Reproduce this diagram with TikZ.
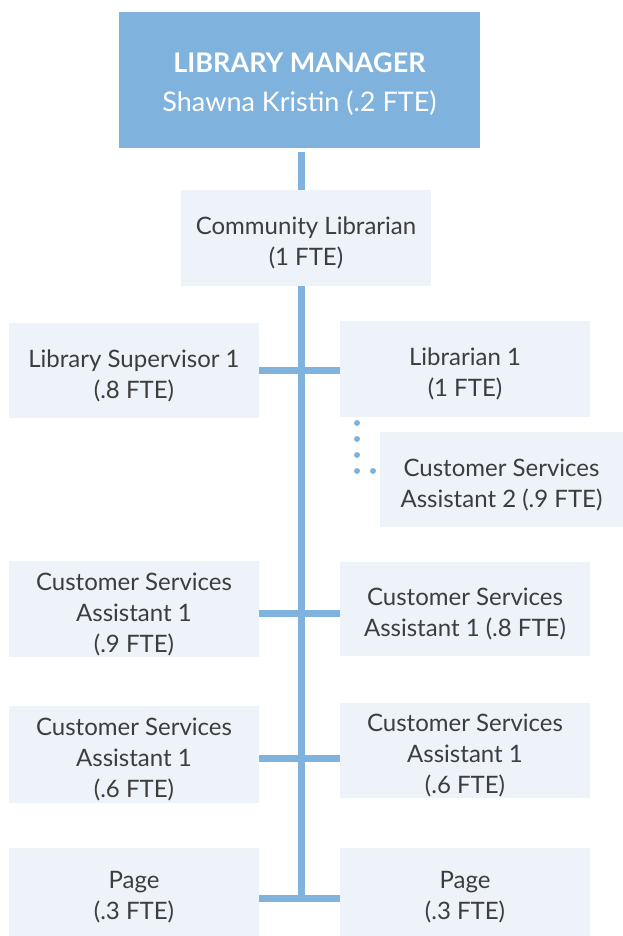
\documentclass[tikz,border=0pt]{standalone}
\usepackage{fontspec}
\setmainfont{Lato}
\usepackage{tikz}
\usetikzlibrary{positioning}
\definecolor{mgrblue}{HTML}{80B2DE}
\definecolor{boxfill}{HTML}{EEF3FA}
\definecolor{txtgray}{HTML}{3D3D3D}
\newcommand{\topgap}{\rule{0pt}{28pt}}
\tikzset{
  staff/.style={fill=boxfill, text=txtgray, minimum width=250pt, minimum height=96pt,
    inner sep=0pt, align=center, font=\fontsize{24}{31}\selectfont},
  link/.style={draw=mgrblue, line width=7pt},
}

\begin{document}
\begin{tikzpicture}[x=1pt,y=-1pt]
\useasboundingbox (0,0) rectangle (623,936);
% boxes
\node[fill=mgrblue, text=white, minimum width=361pt, minimum height=136pt, inner sep=0pt,
  align=center, font=\fontsize{27}{39}\selectfont] (mgr) at (299.5,80)
  {\topgap\textbf{LIBRARY MANAGER}\\Shawna Kristin (.2 FTE)};
\node[staff] (comm) at (306,238) {\topgap Community Librarian\\(1 FTE)};
\node[staff, minimum height=95pt] (sup) at (134,370.5) {\topgap Library Supervisor 1\\(.8 FTE)};
\node[staff] (lib1) at (465,369) {\topgap Librarian 1\\(1 FTE)};
\node[staff, minimum width=243pt, minimum height=95pt] (csa2) at (501.5,479.5) {\topgap Customer Services\\Assistant 2 (.9 FTE)};
\node[staff] (csaA) at (134,609) {\topgap Customer Services\\Assistant 1\\(.9 FTE)};
\node[staff, minimum height=94pt] (csaB) at (465,609) {\topgap Customer Services\\Assistant 1 (.8 FTE)};
\node[staff, minimum height=97pt] (csaC) at (134,754.5) {\topgap Customer Services\\Assistant 1\\(.6 FTE)};
\node[staff, minimum height=95pt] (csaD) at (465,750.5) {\topgap Customer Services\\Assistant 1\\(.6 FTE)};
\node[staff, minimum height=88pt] (pageA) at (134,892) {\topgap Page\\(.3 FTE)};
\node[staff, minimum height=88pt] (pageB) at (465,892) {\topgap Page\\(.3 FTE)};
% trunk
\coordinate (top) at (301,152);
\coordinate (bot) at (301,902);
\draw[link] (top)--(comm.north -| top);
\draw[link] (comm.south -| top)--(bot);
% branches
\coordinate (r1) at (301,370);
\coordinate (r2) at (301,613);
\coordinate (r3) at (301,758);
\coordinate (r4) at (301,898.5);
\draw[link] (sup.east |- r1)--(lib1.west |- r1);
\draw[link] (csaA.east |- r2)--(csaB.west |- r2);
\draw[link] (csaC.east |- r3)--(csaD.west |- r3);
\draw[link] (pageA.east |- r4)--(pageB.west |- r4);
% dotted line to assistant 2
\coordinate (d1) at (357,423);
\coordinate (d2) at (357,471);
\draw[mgrblue, line width=6pt, line cap=round, dash pattern=on 0pt off 16pt]
  (d1)--(d2)--(csa2.west |- d2);
\end{tikzpicture}
\end{document}
